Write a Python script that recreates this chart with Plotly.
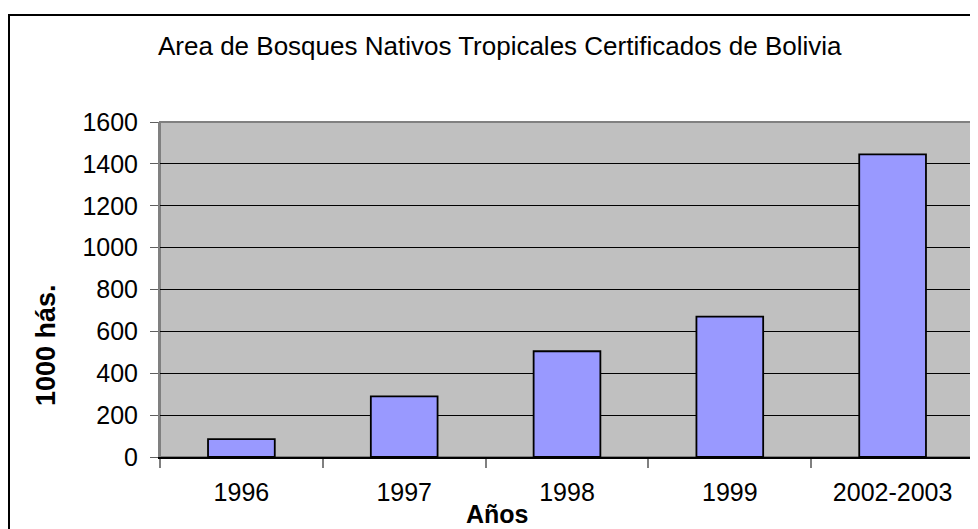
import plotly.graph_objects as go

categories = ["1996", "1997", "1998", "1999", "2002-2003"]
values = [85, 290, 505, 670, 1445]
y_ticks = [0, 200, 400, 600, 800, 1000, 1200, 1400, 1600]

title_text = "Area de Bosques Nativos Tropicales Certificados de Bolivia"
x_title = "Años"
y_title = "1000 hás."

FONT = "Liberation Sans, Arial, sans-serif"

# the page has an 8px body margin; plot area in page px: x 160-974, y 122-457
PL, PR, PT, PB = 160, 974, 122, 457
PW, PH = PR - PL, PB - PT


def px(x):
    return (x - PL) / PW


def py(y):
    return (PB - y) / PH


fig = go.Figure()
fig.add_trace(go.Bar(
    x=categories, y=values, width=0.41,
    marker=dict(color="#9999FF", line=dict(color="black", width=1.8)),
))

fig.update_layout(
    width=970, height=521,
    margin=dict(l=PL - 8, r=970 - (PR - 8), t=PT - 8, b=521 - (PB - 8), autoexpand=False),
    paper_bgcolor="white", plot_bgcolor="#C0C0C0",
    showlegend=False,
    font=dict(family=FONT, size=25, color="black"),
)
fig.update_xaxes(
    type="category", showgrid=False, tickson="boundaries",
    ticks="outside", ticklen=9, tickcolor="#808080", tickwidth=1.5,
    showline=True, linecolor="black", linewidth=1.5,
    tickfont=dict(family=FONT, size=25),
    ticklabelstandoff=12,
    range=[-0.5, 4.5],
)
fig.update_yaxes(
    range=[0, 1600], tickvals=y_ticks, showgrid=True, gridcolor="black", gridwidth=1,
    ticks="outside", ticklen=8, tickcolor="#606060",
    showline=True, linecolor="#808080", linewidth=2,
    zeroline=False,
    tickfont=dict(family=FONT, size=25),
    ticklabelstandoff=7,
)
fig.add_annotation(text=title_text, xref="paper", yref="paper",
                   x=px(500), y=py(46), xanchor="center", yanchor="middle",
                   showarrow=False, font=dict(family=FONT, size=26, color="black"))
fig.add_annotation(text="<b>" + x_title + "</b>", xref="paper", yref="paper",
                   x=px(497), y=py(514), xanchor="center", yanchor="middle",
                   showarrow=False, font=dict(family=FONT, size=25, color="black"))
fig.add_annotation(text="<b>" + y_title + "</b>", xref="paper", yref="paper",
                   x=px(46), y=py(345), xanchor="center", yanchor="middle",
                   textangle=-90, showarrow=False,
                   font=dict(family=FONT, size=27, color="black"))
# gray border of plot area
fig.add_shape(type="rect", xref="paper", yref="paper", x0=0, x1=1, y0=0, y1=1,
              line=dict(color="#808080", width=2), layer="below")
# outer chart border
fig.add_shape(type="rect", xref="paper", yref="paper",
              x0=px(9), x1=px(990), y0=py(545), y1=py(15),
              line=dict(color="black", width=2))

fig.write_html("out.html")
